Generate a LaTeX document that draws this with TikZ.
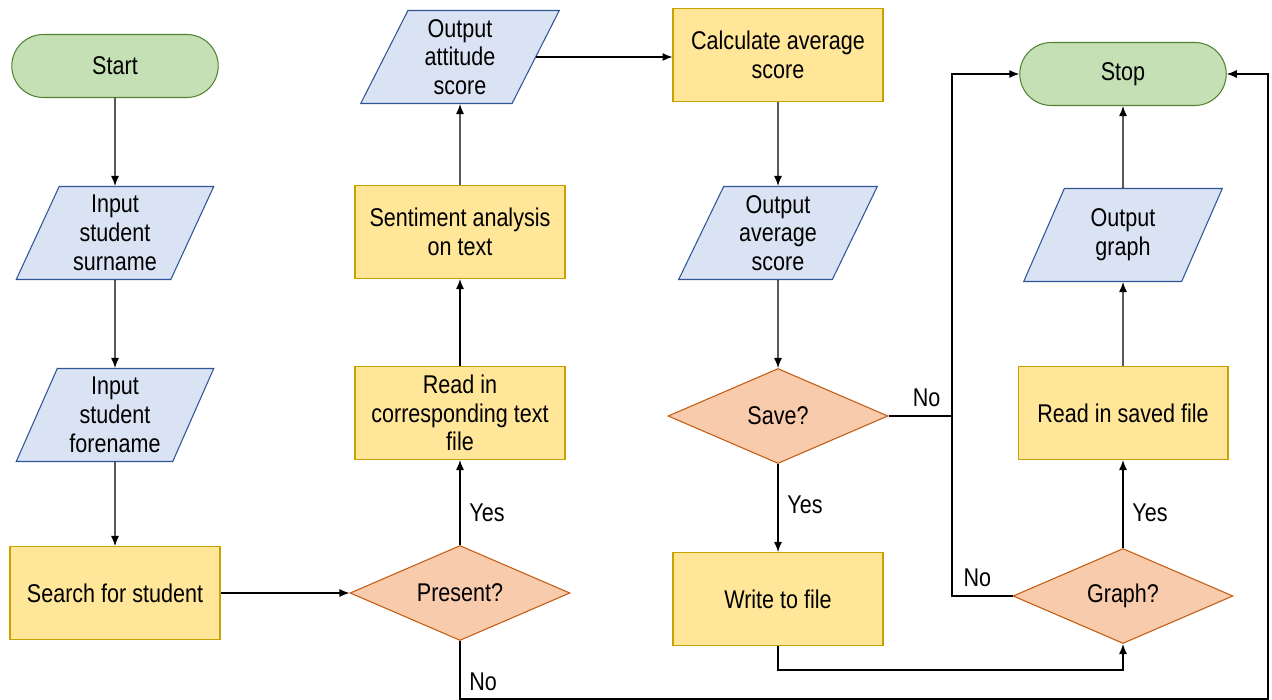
\documentclass[tikz,border=0pt]{standalone}
\usepackage{fontspec}
\setmainfont{Liberation Sans}[FakeStretch=0.84]
\usepackage{tikz}
\usetikzlibrary{shapes.geometric,shapes.misc,arrows.meta}

\definecolor{termfill}{HTML}{C5E0B4}
\definecolor{termline}{HTML}{548235}
\definecolor{iofill}{HTML}{DAE3F3}
\definecolor{ioline}{HTML}{2F5597}
\definecolor{procfill}{HTML}{FFE699}
\definecolor{procline}{HTML}{C9A100}
\definecolor{decfill}{HTML}{F8CBAD}
\definecolor{decline}{HTML}{C55A11}

\newcommand{\chartfont}{\fontsize{14.6}{16.4}\selectfont}

\tikzset{
    base/.style={draw, font=\chartfont, align=center, inner sep=1pt, line width=0.6pt},
    terminal/.style={base, rounded rectangle, fill=termfill, draw=termline, minimum width=4.2cm, minimum height=1.26cm},
    process/.style={base, rectangle, fill=procfill, draw=procline, minimum width=4.2cm, minimum height=1.86cm},
    io/.style={base, trapezium, trapezium left angle=67, trapezium right angle=113, trapezium stretches=true, fill=iofill, draw=ioline, minimum width=3.98cm, minimum height=1.86cm},
    decision/.style={base, diamond, aspect=2.3, fill=decfill, draw=decline, minimum width=4.4cm, minimum height=1.9cm},
    arrow/.style={-{Latex[length=2mm,width=1.6mm]}, line width=0.7pt},
    link/.style={line width=0.7pt},
    lbl/.style={font=\chartfont, inner sep=5pt}
}

\begin{document}
\begin{tikzpicture}[x=0.02cm, y=-0.02cm]
    \useasboundingbox (0,0) rectangle (1272,700);

    % First column
    \node[terminal] (start) at (115,66) {Start};
    \node[io] (surname) at (115,233) {Input\\student\\surname};
    \node[io] (forename) at (115,415) {Input\\student\\forename};
    \node[process] (search) at (115,593) {Search for student};

    % Second column
    \node[decision] (present) at (460,593) {Present?};
    \node[process] (readin) at (460,413) {Read in\\corresponding text\\file};
    \node[process] (sentiment) at (460,232) {Sentiment analysis\\on text};
    \node[io] (attitude) at (460,57) {Output\\attitude\\score};

    % Third column
    \node[process] (calc) at (778,55) {Calculate average\\score};
    \node[io] (avgout) at (778,233) {Output\\average\\score};
    \node[decision] (save) at (778,416) {Save?};
    \node[process] (write) at (778,599) {Write to file};

    % Fourth column
    \node[terminal] (stop) at (1123,74) {Stop};
    \node[io] (outgraph) at (1123,235) {Output\\graph};
    \node[process] (readsaved) at (1123,413) {Read in saved file};
    \node[decision] (graph) at (1123,596) {Graph?};

    % Bend points
    \coordinate (botright) at (1268,699);
    \coordinate (jn) at (952,416);
    \coordinate (low) at (1123,670);

    % Arrows
    \draw[arrow] (start) -- (surname);
    \draw[arrow] (surname) -- (forename);
    \draw[arrow] (forename) -- (search);
    \draw[arrow] (search) -- (present);
    \draw[arrow] (present) -- node[lbl, right, pos=0.38] (yes1) {Yes} (readin);
    \draw[arrow] (readin) -- (sentiment);
    \draw[arrow] (sentiment) -- (attitude);
    \draw[arrow] (attitude.east) -- (attitude.east -| calc.west);
    \draw[arrow] (calc) -- (avgout);
    \draw[arrow] (avgout) -- (save);
    \draw[arrow] (save) -- node[lbl, right, pos=0.46] (yes2) {Yes} (write);
    \draw[arrow] (write.south) |- (low) -- (graph.south);
    \draw[arrow] (graph) -- node[lbl, right, pos=0.4] (yes3) {Yes} (readsaved);
    \draw[arrow] (readsaved) -- (outgraph);
    \draw[arrow] (outgraph) -- (stop);

    % No branches
    \draw[arrow] (present.south) -- node[lbl, right, pos=0.71] (no1) {No} (present.south |- botright)
        -- (botright) -- (botright |- stop.east) -- (stop.east);
    \draw[arrow] (save.east) -- node[lbl, above, pos=0.6] (no2) {No} (jn) -- (jn |- stop.west) -- (stop.west);
    \draw[link] (graph.west) -- node[lbl, above, pos=0.58] (no3) {No} (graph.west -| jn) -- (jn);
\end{tikzpicture}
\end{document}
